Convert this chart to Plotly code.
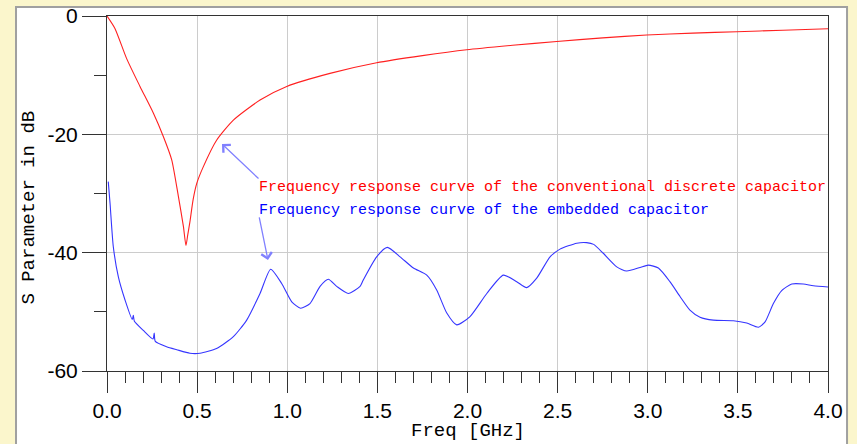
import plotly.graph_objects as go

# Red: conventional discrete capacitor
red_f = [0.0, 0.044, 0.109, 0.183, 0.257, 0.313, 0.359, 0.396, 0.424, 0.438, 0.448, 0.460, 0.478,
         0.498, 0.534, 0.608, 0.701, 0.849, 0.997, 1.237, 1.496, 1.75, 1.996, 2.25, 2.495, 2.75,
         2.994, 3.25, 3.494, 3.75, 4.0]
red_v = [0.0, -2.1, -7.2, -11.9, -16.4, -20.4, -24.3, -30.5, -35.6, -38.8, -37.0, -34.8, -31.0,
         -28.3, -25.5, -21.0, -17.6, -14.2, -11.9, -9.7, -7.9, -6.7, -5.7, -4.95, -4.3, -3.7,
         -3.2, -2.9, -2.65, -2.4, -2.15]

# Blue: embedded capacitor
blue_f = [0.007, 0.017, 0.035, 0.063, 0.1, 0.14, 0.146, 0.152, 0.2, 0.255, 0.262, 0.268, 0.331,
          0.387, 0.46, 0.516, 0.608, 0.701, 0.775, 0.849, 0.908, 0.969, 1.025, 1.074, 1.126,
          1.182, 1.228, 1.274, 1.339, 1.404, 1.422, 1.496, 1.555, 1.626, 1.70, 1.774, 1.829,
          1.885, 1.940, 2.014, 2.107, 2.199, 2.273, 2.328, 2.384, 2.458, 2.513, 2.606, 2.661,
          2.70, 2.753, 2.828, 2.883, 2.957, 3.003, 3.059, 3.123, 3.179, 3.234, 3.290, 3.364,
          3.475, 3.549, 3.614, 3.651, 3.697, 3.743, 3.799, 3.863, 3.919, 4.0]
blue_v = [-28.0, -31.7, -39.0, -44.1, -48.0, -51.3, -50.6, -51.6, -53.1, -54.6, -53.6, -55.0, -55.9,
          -56.4, -57.0, -57.0, -56.2, -54.2, -51.4, -46.9, -42.8, -45.2, -48.3, -49.4, -48.6,
          -45.7, -44.5, -45.7, -46.9, -45.7, -44.6, -40.7, -39.1, -40.7, -42.6, -43.8, -46.3,
          -50.2, -52.2, -50.8, -46.9, -43.8, -44.9, -45.9, -44.3, -40.7, -39.4, -38.4, -38.3,
          -38.6, -40.1, -42.4, -43.1, -42.5, -42.1, -42.6, -44.9, -47.4, -49.7, -50.9, -51.4,
          -51.5, -51.9, -52.6, -51.7, -48.6, -46.4, -45.3, -45.3, -45.6, -45.8]

y_tickvals = [0, -20, -40, -60]
y_ticktext = ["0", "-20", "-40", "-60"]
x_tickvals = [0.0, 0.5, 1.0, 1.5, 2.0, 2.5, 3.0, 3.5, 4.0]
x_ticktext = ["0.0", "0.5", "1.0", "1.5", "2.0", "2.5", "3.0", "3.5", "4.0"]

label_red = "Frequency response curve of the conventional discrete capacitor"
label_blue = "Frequency response curve of the embedded capacitor"

fig = go.Figure()
fig.add_trace(go.Scatter(x=red_f, y=red_v, mode="lines",
                         line=dict(color="#FF2020", width=1.1, shape="spline", smoothing=0.6)))
fig.add_trace(go.Scatter(x=blue_f, y=blue_v, mode="lines",
                         line=dict(color="#3535FF", width=1.1, shape="spline", smoothing=0.6)))

tickfont = dict(family="Liberation Sans, Arial, sans-serif", size=21, color="#000000")

fig.update_layout(
    width=857, height=444,
    margin=dict(l=107, r=29, t=16, b=73, autoexpand=False),
    paper_bgcolor="#FBF6CC",
    plot_bgcolor="#FFFFFF",
    showlegend=False,
    xaxis=dict(range=[0, 4], tickmode="array", tickvals=x_tickvals, ticktext=x_ticktext,
               automargin=False,
               ticks="outside", ticklen=21, tickcolor="#333333", tickwidth=1,
               showline=True, linecolor="#333333", linewidth=1, mirror=True,
               showgrid=True, gridcolor="#CCCCCC", gridwidth=1, zeroline=False,
               tickfont=tickfont,
               minor=dict(dtick=0.1, tick0=0, ticks="outside", ticklen=11,
                          tickcolor="#333333", showgrid=False)),
    yaxis=dict(range=[-60, 0], tickmode="array", tickvals=y_tickvals, ticktext=y_ticktext,
               automargin=False,
               ticks="outside", ticklen=24, tickcolor="#333333", tickwidth=1,
               showline=True, linecolor="#333333", linewidth=1, mirror=True,
               showgrid=True, gridcolor="#CCCCCC", gridwidth=1, zeroline=False,
               tickfont=tickfont,
               minor=dict(dtick=10, tick0=0, ticks="outside", ticklen=12,
                          tickcolor="#333333", showgrid=False)),
    shapes=[dict(type="rect", xref="paper", yref="paper",
                 x0=-0.1262, x1=1.0264, y0=-0.25, y1=1.0254,
                 fillcolor="#FFFFFF", line=dict(color="#A0A0A0", width=2), layer="below")],
)

mono = "Liberation Mono, Courier New, monospace"
fig.add_annotation(x=0.208, y=0.5155, xref="paper", yref="paper", xanchor="left", yanchor="middle",
                   text=label_red, showarrow=False, font=dict(family=mono, size=15, color="#FF0000"))
fig.add_annotation(x=0.208, y=0.4535, xref="paper", yref="paper", xanchor="left", yanchor="middle",
                   text=label_blue, showarrow=False, font=dict(family=mono, size=15, color="#0000FF"))
# arrows
fig.add_annotation(x=0.638, y=-21.63, ax=0.849, ay=-27.72, xref="x", yref="y", axref="x", ayref="y",
                   text="", showarrow=True, arrowhead=4, arrowsize=1.6, arrowwidth=1.3,
                   arrowcolor="#8080FF")
fig.add_annotation(x=0.893, y=-41.24, ax=0.843, ay=-33.8, xref="x", yref="y", axref="x", ayref="y",
                   text="", showarrow=True, arrowhead=4, arrowsize=1.6, arrowwidth=1.3,
                   arrowcolor="#8080FF")
# axis titles
fig.add_annotation(x=0.5, y=-0.168, xref="paper", yref="paper", xanchor="center", yanchor="middle",
                   text="Freq [GHz]", showarrow=False, font=dict(family=mono, size=19, color="#000000"))
fig.add_annotation(x=-0.108, y=0.4606, xref="paper", yref="paper", xanchor="center", yanchor="middle",
                   text="S Parameter in dB", textangle=-90, showarrow=False,
                   font=dict(family=mono, size=19, color="#000000"))

fig.write_html("out.html", config={"displayModeBar": False},
               post_script="document.body.style.margin='0';document.body.style.padding='0';"
                           "document.body.style.background='#FBF6CC';")
